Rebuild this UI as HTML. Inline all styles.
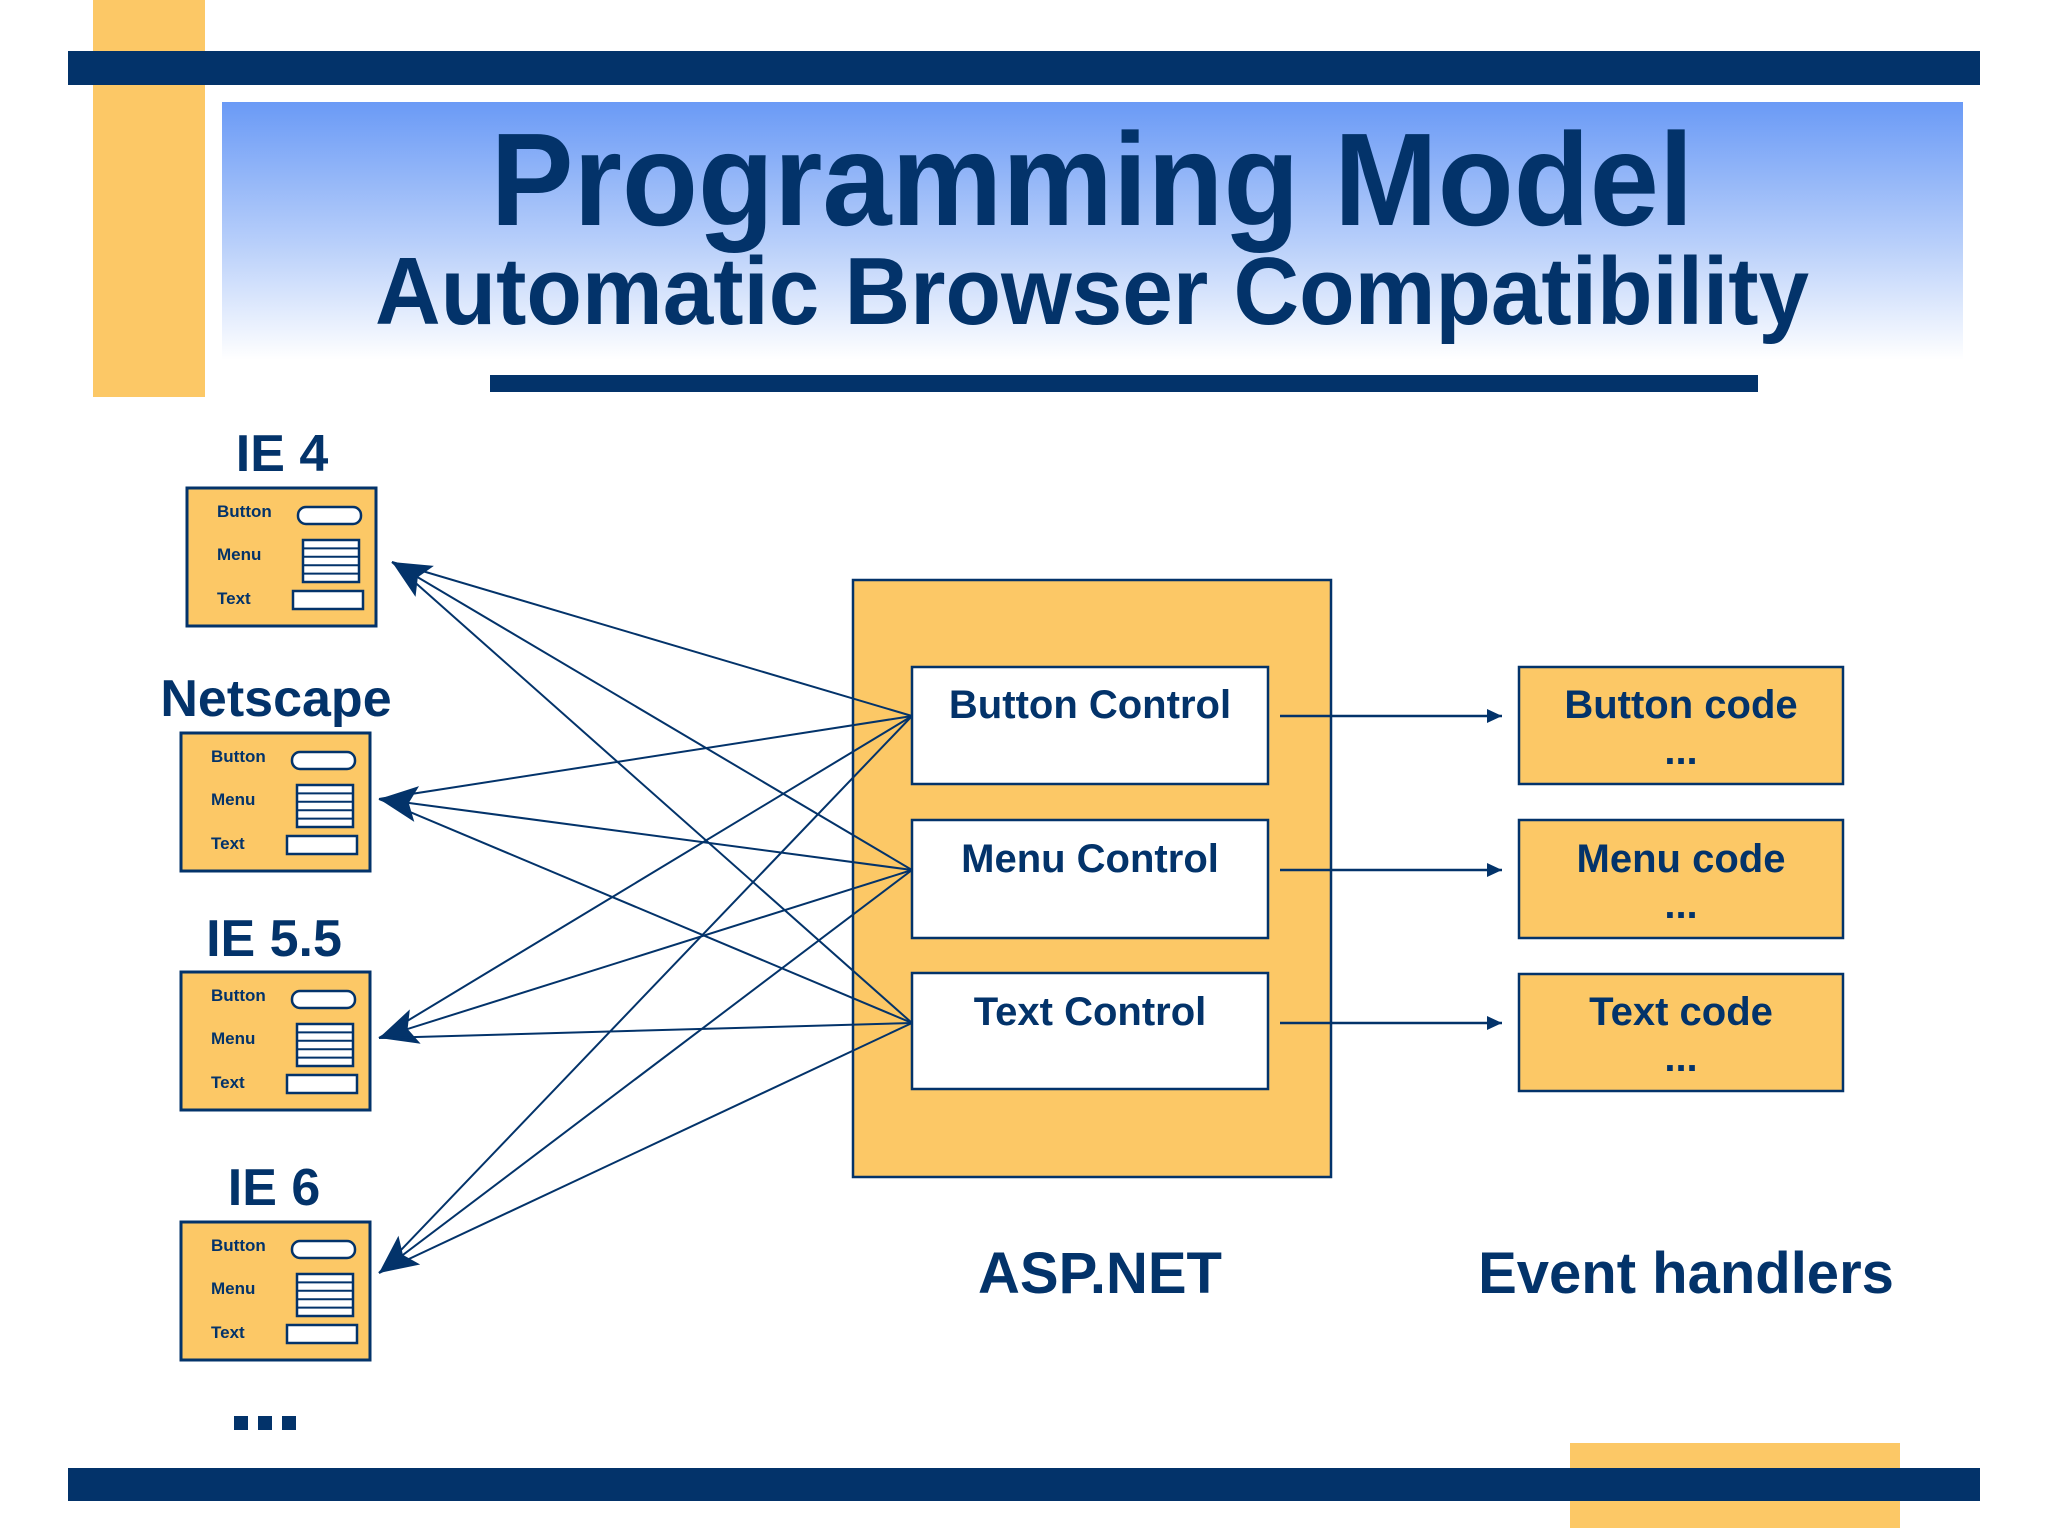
<!DOCTYPE html>
<html><head><meta charset="utf-8"><style>html,body{margin:0;padding:0;background:#fff}svg{display:block}</style></head>
<body>
<svg width="2048" height="1536" viewBox="0 0 2048 1536" xmlns="http://www.w3.org/2000/svg" font-family="Liberation Sans, Arial, sans-serif" font-weight="bold">
<defs>
<linearGradient id="g" x1="0" y1="0" x2="0" y2="1">
<stop offset="0" stop-color="#6a9af6"/><stop offset="0.55" stop-color="#b8cffa"/><stop offset="1" stop-color="#ffffff"/>
</linearGradient>
<marker id="big" markerUnits="userSpaceOnUse" markerWidth="40" markerHeight="40" viewBox="0 0 40 40" refX="38" refY="20" orient="auto">
<path d="M0,2 L38,20 L0,38 L8,20 Z" fill="#03336a"/>
</marker>
<marker id="sm" markerUnits="userSpaceOnUse" markerWidth="16" markerHeight="16" viewBox="0 0 16 16" refX="15" refY="8" orient="auto">
<path d="M0,1 L15,8 L0,15 Z" fill="#03336a"/>
</marker>
<g id="br">
<rect x="0" y="0" width="189" height="138" fill="#fcc866" stroke="#03336a" stroke-width="3"/>
<text x="30" y="29" font-size="17" fill="#03336a">Button</text>
<rect x="111" y="19" width="63" height="17" rx="8" fill="#fff" stroke="#03336a" stroke-width="2.5"/>
<text x="30" y="72" font-size="17" fill="#03336a">Menu</text>
<rect x="116" y="52" width="56" height="42" fill="#fff" stroke="#03336a" stroke-width="2.5"/>
<path d="M116,60.4H172M116,68.8H172M116,77.2H172M116,85.6H172" stroke="#03336a" stroke-width="2"/>
<text x="30" y="116" font-size="17" fill="#03336a">Text</text>
<rect x="106" y="103" width="70" height="18" fill="#fff" stroke="#03336a" stroke-width="2.5"/>
</g>
</defs>
<rect x="93" y="0" width="112" height="397" fill="#fcc866"/>
<rect x="222" y="102" width="1741" height="258" fill="url(#g)"/>
<rect x="68" y="51" width="1912" height="34" fill="#03336a"/>
<text x="1092" y="225" font-size="132" fill="#03336a" text-anchor="middle" textLength="1203" lengthAdjust="spacingAndGlyphs">Programming Model</text>
<text x="1092" y="324" font-size="96" fill="#03336a" text-anchor="middle" textLength="1434" lengthAdjust="spacingAndGlyphs">Automatic Browser Compatibility</text>
<rect x="490" y="375" width="1268" height="17" fill="#03336a"/>

<g fill="#03336a" text-anchor="middle" font-size="52">
<text x="282" y="471">IE 4</text>
<text x="276" y="716">Netscape</text>
<text x="274" y="956">IE 5.5</text>
<text x="274" y="1205">IE 6</text>
</g>
<rect x="234" y="1416" width="14" height="14" fill="#03336a"/>
<rect x="258" y="1416" width="14" height="14" fill="#03336a"/>
<rect x="282" y="1416" width="14" height="14" fill="#03336a"/>
<use href="#br" x="187" y="488"/>
<use href="#br" x="181" y="733"/>
<use href="#br" x="181" y="972"/>
<use href="#br" x="181" y="1222"/>

<rect x="853" y="580" width="478" height="597" fill="#fcc866" stroke="#03336a" stroke-width="2.5"/>
<g fill="#fff" stroke="#03336a" stroke-width="2.5">
<rect x="912" y="667" width="356" height="117"/>
<rect x="912" y="820" width="356" height="118"/>
<rect x="912" y="973" width="356" height="116"/>
</g>
<g fill="#fcc866" stroke="#03336a" stroke-width="2.5">
<rect x="1519" y="667" width="324" height="117"/>
<rect x="1519" y="820" width="324" height="118"/>
<rect x="1519" y="974" width="324" height="117"/>
</g>
<g fill="#03336a" text-anchor="middle" font-size="40">
<text x="1090" y="718">Button Control</text>
<text x="1090" y="872">Menu Control</text>
<text x="1090" y="1025">Text Control</text>
<text x="1681" y="718">Button code</text>
<text x="1681" y="764">...</text>
<text x="1681" y="872">Menu code</text>
<text x="1681" y="918">...</text>
<text x="1681" y="1025">Text code</text>
<text x="1681" y="1071">...</text>
<text x="1100" y="1293" font-size="58">ASP.NET</text>
<text x="1686" y="1293" font-size="58">Event handlers</text>
</g>
<g stroke="#03336a" stroke-width="2.5" marker-end="url(#sm)">
<line x1="1280" y1="716" x2="1502" y2="716"/>
<line x1="1280" y1="870" x2="1502" y2="870"/>
<line x1="1280" y1="1023" x2="1502" y2="1023"/>
</g>
<g stroke="#03336a" stroke-width="2" fill="none">
<line x1="912" y1="716" x2="392" y2="562"/>
<line x1="912" y1="870" x2="392" y2="562" marker-end="url(#big)"/>
<line x1="912" y1="1023" x2="392" y2="562"/>
<line x1="912" y1="716" x2="379" y2="799"/>
<line x1="912" y1="870" x2="379" y2="799" marker-end="url(#big)"/>
<line x1="912" y1="1023" x2="379" y2="799"/>
<line x1="912" y1="716" x2="379" y2="1038"/>
<line x1="912" y1="870" x2="379" y2="1038" marker-end="url(#big)"/>
<line x1="912" y1="1023" x2="379" y2="1038"/>
<line x1="912" y1="716" x2="379" y2="1273"/>
<line x1="912" y1="870" x2="379" y2="1273" marker-end="url(#big)"/>
<line x1="912" y1="1023" x2="379" y2="1273"/>
</g>

<rect x="1570" y="1443" width="330" height="85" fill="#fcc866"/>
<rect x="68" y="1468" width="1912" height="33" fill="#03336a"/>
</svg>
</body></html>
